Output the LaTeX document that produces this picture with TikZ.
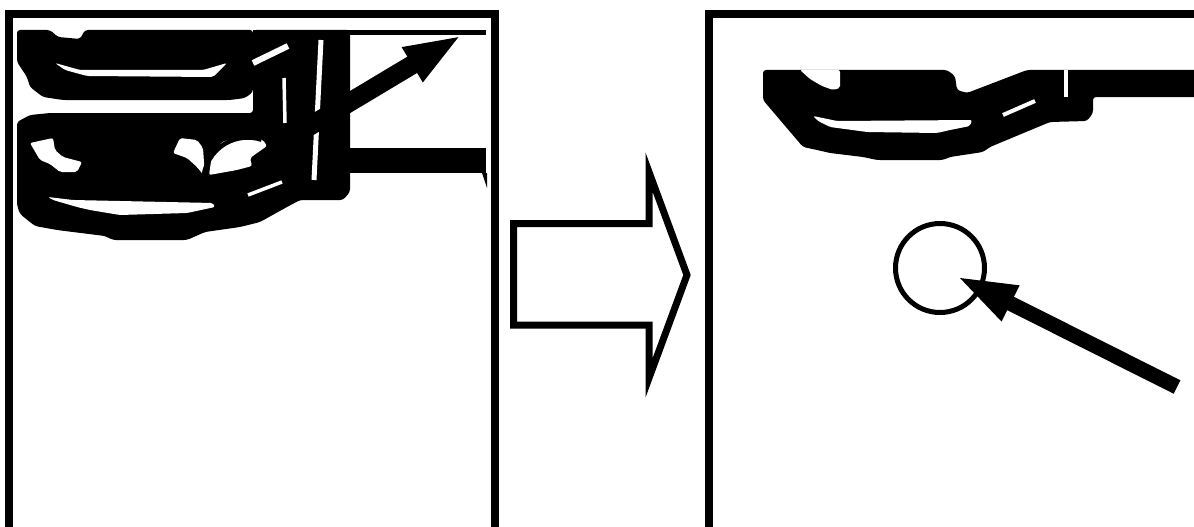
\documentclass[tikz,border=0pt]{standalone}
\usepackage{tikz}
\usetikzlibrary{arrows.meta,calc}
\tikzset{
  panel/.style={draw=black, line width=8pt},
  ink/.style={fill=black, rounded corners=#1},
  ink/.default=3pt,
  hole/.style={fill=white, rounded corners=2pt},
  slit/.style={draw=white, line width=#1},
  slit/.default=4pt,
  target/.style={circle, draw=black, line width=#1,
    minimum size=89pt, inner sep=0pt},
  target/.default=5pt,
  pointer/.style args={#1/#2/#3}{
    draw=black, line width=#1, -{Triangle[length=#2, width=#3]}
  },
  bigarrow/.style={draw=black, fill=white, line width=7pt},
}

\begin{document}
\begin{tikzpicture}[x=1pt,y=-1pt]
  \useasboundingbox (0,0) rectangle (1194,527);
  \clip (0,0) rectangle (1194,527);

  % Panels
  \draw[panel] (9,14) rectangle (495,545);
  \draw[panel] (709,14) rectangle (1215,545);

  % Left panel: upper pan
  \fill[ink] (17,30) -- (50,30) -- (58,37) -- (80,39) -- (85,30) -- (253,30)
    -- (253,92) -- (245,98) -- (230,100) -- (63,100) -- (43,97) -- (30,87)
    -- (27,77) -- (17,62) -- cycle;
  \fill[hole] (55,63) -- (80,70) -- (203,70) -- (227,63) -- (213,77)
    -- (87,76) -- (65,70) -- cycle;

  % Left panel: lower pan and block
  \fill[ink] (17,122) -- (30,115) -- (50,113) -- (253,113) -- (253,30)
    -- (350,30) -- (350,192) -- (343,200) -- (300,200) -- (287,207)
    -- (260,222) -- (240,227) -- (205,232) -- (187,240) -- (113,240)
    -- (105,236) -- (57,230) -- (35,226) -- (20,214) -- (17,205) -- cycle;
  \fill[hole] (30,143) -- (53,138) -- (55,150) -- (63,157) -- (82,162)
    -- (77,172) -- (60,172) -- (50,164) -- (40,160) -- cycle;
  \fill[hole] (173,153) -- (180,138) -- (197,140) -- (203,148) -- (205,177)
    -- (197,167) -- (187,158) -- cycle;
  \fill[hole] (209,175) -- (237,170) -- (252,166) -- (250,158) -- (267,146)
    -- (263,140) -- (253,137) -- (237,137) -- (222,142) -- (212,155) -- cycle;
  \fill[hole] (48,197) -- (73,200) -- (213,203) -- (215,207) -- (187,213)
    -- (120,215) -- (90,210) -- (77,207) -- (53,200) -- cycle;
  \foreach \xa/\ya/\xb/\yb/\w in {253/63/288/46/6, 284/78/285/123/3.5,
      321/40/314/180/5, 248/195/282/182/3.5}
    \draw[slit=\w pt] (\xa,\ya) -- (\xb,\yb);

  % Left panel: target (only its upper left shows) and pointer
  \node[target=4.5pt, draw=none] (tgtL) at (250,182) {};
  \draw[line width=4.5pt] (tgtL.west) arc[start angle=180, end angle=72, radius=44.5pt];
  \coordinate (tailL) at (300,132);
  \coordinate (tipL) at (462,35);
  \draw[pointer=19pt/58pt/36pt] (tailL) -- (tipL);

  % Left panel: rails
  \fill[ink=0pt] (253,30) rectangle (486,35);
  \fill[ink=0pt] (350,148) rectangle (486,173);
  \fill[ink=0pt] (482,173) -- (487,173) -- (487,188) -- cycle;

  % Transform arrow
  \draw[bigarrow] (513.5,223.5) -- (649,223.5) -- (649,172) -- (687,275)
    -- (649,378) -- (649,325) -- (513.5,325) -- cycle;

  % Right panel: cropped pan
  \fill[ink] (763,70) -- (947,70) -- (955,76) -- (957,90) -- (967,93)
    -- (1027,70) -- (1200,70) -- (1200,97) -- (1093,97) -- (1093,113)
    -- (1087,121) -- (1050,122) -- (990,147) -- (983,152) -- (950,157)
    -- (943,160) -- (877,160) -- (863,157) -- (830,153) -- (817,150)
    -- (803,147) -- (763,100) -- cycle;
  \fill[hole] (800,70) -- (840,70) -- (840,88) -- (833,90) -- (822,86)
    -- (810,79) -- cycle;
  \fill[hole] (813,116) -- (837,121) -- (972,120) -- (970,126) -- (950,130)
    -- (937,133) -- (867,132) -- (830,127) -- (818,121) -- cycle;
  \draw[slit] (1003,115) -- (1035,101);
  \draw[slit=3.5pt] (1066,70) -- (1066,97);

  % Right panel: target and pointer
  \node[target] (tgtR) at (940,268) {};
  \coordinate (tailR) at (1177,387);
  \draw[pointer=15pt/62pt/35pt] (tailR) -- ($(tgtR.center)!17pt!(tailR)$);
\end{tikzpicture}
\end{document}
